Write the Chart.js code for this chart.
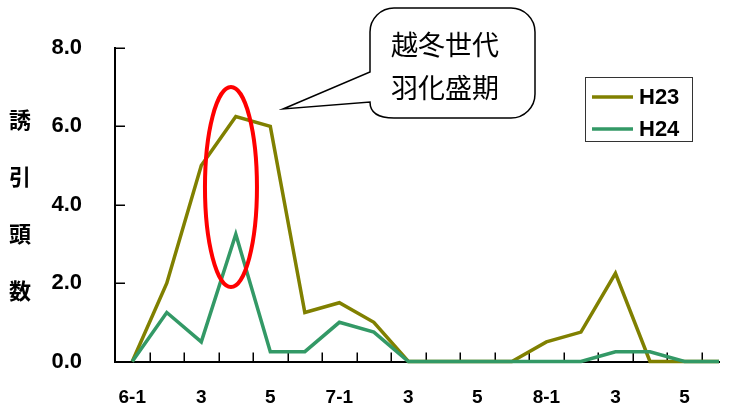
<!DOCTYPE html>
<html lang="ja">
<head>
<meta charset="UTF-8">
<title>誘引頭数</title>
<script src="https://cdn.jsdelivr.net/npm/chart.js"></script>
<style>
  body { margin: 0; background: #fff; }
  #wrap { width: 731px; height: 410px; }
</style>
</head>
<body>
<div id="wrap"><canvas id="myChart" width="731" height="410"></canvas></div>
<script>
// 半旬ごとの期間 (6月第1半旬 ～ 8月第6半旬)
const periods = ['6-1','6-2','6-3','6-4','6-5','6-6',
                 '7-1','7-2','7-3','7-4','7-5','7-6',
                 '8-1','8-2','8-3','8-4','8-5','8-6'];
const tickLabels = ['6-1','','3','','5','','7-1','','3','','5','','8-1','','3','','5',''];
const h23 = [0, 2.0, 5.0, 6.25, 6.0, 1.25, 1.5, 1.0, 0, 0, 0, 0, 0.5, 0.75, 2.25, 0, 0, 0];
const h24 = [0, 1.25, 0.5, 3.25, 0.25, 0.25, 1.0, 0.75, 0, 0, 0, 0, 0, 0, 0.25, 0.25, 0, 0];
const yTicks = [0, 2, 4, 6, 8];
const yTitle = ['誘', '引', '頭', '数'];
const calloutLines = ['越冬世代', '羽化盛期'];

const numFont = '"Liberation Sans", Arial, sans-serif';
const jpFont = '"Noto Sans CJK JP", sans-serif';

// tick marks pointing into the plot
const innerTicks = {
    id: 'innerTicks',
    beforeDatasetsDraw(chart) {
        const { ctx, chartArea, scales: { x, y } } = chart;
        ctx.save();
        ctx.strokeStyle = '#000';
        ctx.lineWidth = 1.5;
        ctx.beginPath();
        x.ticks.forEach(t => {
            if (Number.isInteger(t.value)) return;
            const px = Math.round(x.getPixelForValue(t.value)) + 0.25;
            ctx.moveTo(px, chartArea.bottom);
            ctx.lineTo(px, chartArea.bottom - 9);
        });
        y.ticks.forEach(t => {
            const py = Math.round(y.getPixelForValue(t.value)) + 0.25;
            ctx.moveTo(chartArea.left, py);
            ctx.lineTo(chartArea.left + 10, py);
        });
        ctx.stroke();
        ctx.restore();
    }
};

// 注記 (楕円, 吹き出し, 凡例, 縦書きの軸タイトル)
const annotate = {
    id: 'annotate',
    afterDatasetsDraw(chart) {
        const { ctx, scales: { x, y } } = chart;
        ctx.save();

        // red ellipse around the peak
        ctx.beginPath();
        ctx.ellipse(x.getPixelForValue(2.86), y.getPixelForValue(4.45), 26, 100, 0, 0, Math.PI * 2);
        ctx.strokeStyle = '#ff0000';
        ctx.lineWidth = 4;
        ctx.stroke();

        // callout
        const L = 370, T = 8, R = 535, B = 118, r = 24;
        ctx.beginPath();
        ctx.moveTo(283, 109);
        ctx.lineTo(L, 72);
        ctx.lineTo(L, T + r);
        ctx.arcTo(L, T, L + r, T, r);
        ctx.lineTo(R - r, T);
        ctx.arcTo(R, T, R, T + r, r);
        ctx.lineTo(R, B - r);
        ctx.arcTo(R, B, R - r, B, r);
        ctx.lineTo(L + 24, B);
        ctx.quadraticCurveTo(L, B, L, 102);
        ctx.closePath();
        ctx.fillStyle = '#fff';
        ctx.fill();
        ctx.strokeStyle = '#000';
        ctx.lineWidth = 1.5;
        ctx.stroke();

        ctx.fillStyle = '#000';
        ctx.font = '27px ' + jpFont;
        ctx.textAlign = 'left';
        ctx.textBaseline = 'middle';
        ctx.fillText(calloutLines[0], 391, 45);
        ctx.fillText(calloutLines[1], 391, 88);

        // legend box
        ctx.strokeStyle = '#333';
        ctx.lineWidth = 1;
        ctx.strokeRect(585.5, 77.5, 107, 64);
        ctx.font = 'bold 22px ' + numFont;
        chart.data.datasets.forEach((ds, i) => {
            const ly = 97 + i * 32;
            ctx.beginPath();
            ctx.moveTo(592, ly);
            ctx.lineTo(633, ly);
            ctx.strokeStyle = ds.borderColor;
            ctx.lineWidth = 3.5;
            ctx.stroke();
            ctx.fillStyle = '#000';
            ctx.fillText(ds.label, 639, ly + 1);
        });

        // vertical y-axis title
        ctx.font = 'bold 22px ' + jpFont;
        ctx.textAlign = 'center';
        const mid = y.getPixelForValue(4);
        yTitle.forEach((ch, i) => {
            ctx.fillText(ch, 20, mid + (i - 1.5) * 57);
        });

        ctx.restore();
    }
};

function noPadding(scale) {
    scale.paddingLeft = 0;
    scale.paddingRight = 0;
    scale.paddingTop = 0;
    scale.paddingBottom = 0;
}

const ctx = document.getElementById('myChart').getContext('2d');
new Chart(ctx, {
    type: 'line',
    data: {
        datasets: [
            {
                label: 'H23',
                data: h23.map((v, i) => ({ x: i, y: v })),
                borderColor: '#808000',
                borderWidth: 3.5,
                pointRadius: 0,
                tension: 0,
                clip: false,
                order: 1
            },
            {
                label: 'H24',
                data: h24.map((v, i) => ({ x: i, y: v })),
                borderColor: '#339966',
                borderWidth: 3.5,
                pointRadius: 0,
                tension: 0,
                clip: false,
                order: 0
            }
        ]
    },
    options: {
        responsive: false,
        animation: false,
        devicePixelRatio: 1,
        layout: { padding: { top: 48, right: 12, bottom: 0, left: 0 } },
        plugins: { legend: { display: false }, tooltip: { enabled: false } },
        scales: {
            x: {
                type: 'linear',
                min: -0.5,
                max: periods.length - 1,
                afterBuildTicks: (scale) => {
                    const t = [];
                    for (let v = 0; v <= periods.length - 1; v += 0.5) t.push({ value: v });
                    scale.ticks = t;
                },
                afterFit: (scale) => { scale.height = 48.5; noPadding(scale); },
                grid: { drawOnChartArea: false, drawTicks: false },
                border: { color: '#000', width: 2 },
                ticks: {
                    autoSkip: false,
                    maxRotation: 0,
                    padding: 25,
                    color: '#000',
                    font: { family: numFont, weight: 'bold', size: 19 },
                    callback: (v) => Number.isInteger(v) ? tickLabels[v] : ''
                }
            },
            y: {
                min: 0,
                max: 8,
                afterBuildTicks: (scale) => { scale.ticks = yTicks.map(v => ({ value: v })); },
                afterFit: (scale) => { scale.width = 115; noPadding(scale); },
                grid: { drawOnChartArea: false, drawTicks: false },
                border: { color: '#000', width: 2 },
                ticks: {
                    padding: 33,
                    color: '#000',
                    font: { family: numFont, weight: 'bold', size: 22 },
                    callback: (v) => v.toFixed(1)
                }
            }
        }
    },
    plugins: [innerTicks, annotate]
});
</script>
</body>
</html>
